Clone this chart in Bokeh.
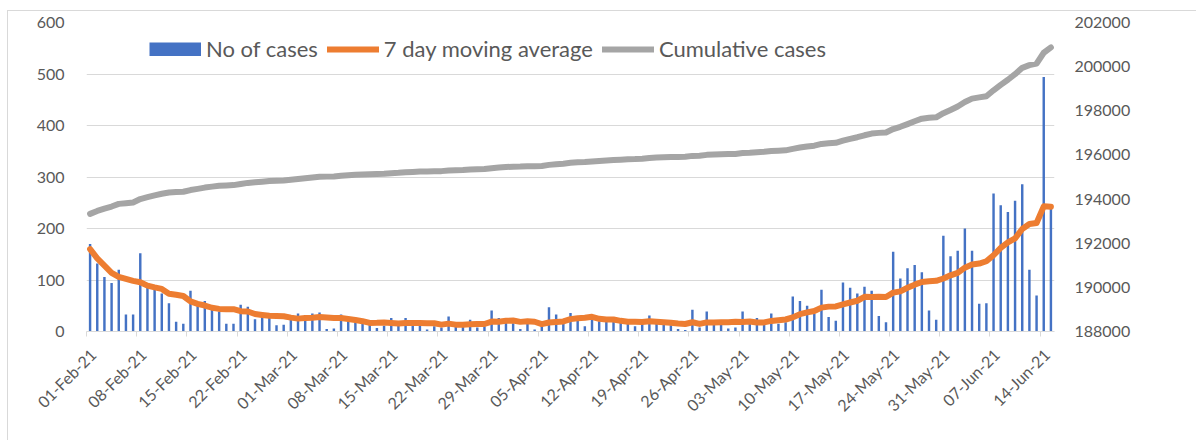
import math
from bokeh.plotting import figure
from bokeh.models import Range1d, LinearAxis, FixedTicker, Legend, LegendItem, PrintfTickFormatter
from bokeh.embed import file_html
from bokeh.resources import INLINE

# ---------------- data ----------------
tick_labels = ["01-Feb-21", "08-Feb-21", "15-Feb-21", "22-Feb-21", "01-Mar-21",
               "08-Mar-21", "15-Mar-21", "22-Mar-21", "29-Mar-21", "05-Apr-21",
               "12-Apr-21", "19-Apr-21", "26-Apr-21", "03-May-21", "10-May-21",
               "17-May-21", "24-May-21", "31-May-21", "07-Jun-21", "14-Jun-21"]

cases = [170, 132, 106, 94, 120, 33, 33,
         152, 85, 82, 74, 55, 19, 15,
         79, 52, 59, 44, 39, 15, 15,
         52, 48, 24, 31, 28, 12, 13,
         32, 35, 32, 35, 37, 5, 6,
         33, 23, 18, 18, 14, 7, 11,
         26, 15, 26, 15, 15, 4, 10,
         8, 29, 12, 12, 23, 8, 10,
         41, 26, 25, 16, 5, 15, 4,
         10, 47, 33, 23, 36, 28, 10,
         23, 20, 23, 23, 18, 16, 10,
         18, 31, 18, 15, 12, 5, 3,
         42, 8, 39, 13, 15, 6, 8,
         39, 15, 26, 15, 35, 15, 18,
         68, 59, 50, 34, 81, 28, 21,
         95, 85, 74, 87, 79, 30, 18,
         155, 103, 123, 129, 115, 41, 23,
         186, 146, 157, 200, 157, 54, 55,
         268, 245, 232, 254, 286, 120, 70,
         494, 241]

moving_avg = [160, 142, 128, 114, 106, 102, 98.3,
              95.7, 89.0, 85.6, 82.7, 73.4, 71.4, 68.9,
              58.4, 53.7, 50.4, 46.1, 43.9, 43.3, 43.3,
              39.4, 38.9, 33.9, 32.0, 30.4, 30.0, 29.7,
              26.9, 25.0, 26.1, 26.7, 28.0, 27.0, 26.0,
              26.1, 24.4, 22.4, 20.0, 16.7, 17.0, 17.7,
              16.7, 15.6, 16.7, 16.3, 16.4, 16.0, 15.9,
              13.3, 15.3, 13.3, 12.9, 14.0, 14.6, 14.6,
              19.3, 18.9, 20.7, 21.3, 18.7, 19.7, 18.9,
              14.4, 17.4, 18.6, 19.6, 24.0, 25.9, 26.7,
              28.6, 24.7, 23.3, 23.3, 20.7, 19.0, 19.0,
              18.3, 19.9, 19.1, 18.0, 17.1, 15.6, 14.6,
              18.0, 14.7, 17.7, 17.4, 17.9, 18.0, 18.7,
              18.3, 19.3, 17.4, 17.7, 20.6, 21.9, 23.3,
              27.4, 33.7, 37.1, 39.9, 46.4, 48.3, 48.7,
              52.6, 56.3, 59.7, 67.3, 67.0, 67.3, 66.9,
              75.4, 78.0, 85.0, 91.0, 96.1, 97.7, 98.4,
              102.9, 109.0, 113.9, 124.0, 130.0, 131.9, 136.4,
              148.1, 162.3, 173.0, 180.7, 199.1, 208.6, 210.7,
              243.0, 242.4]

cumulative = [193330, 193462, 193568, 193662, 193782, 193815, 193848,
              194000, 194085, 194167, 194241, 194296, 194315, 194330,
              194409, 194461, 194520, 194564, 194603, 194618, 194633,
              194685, 194733, 194757, 194788, 194816, 194828, 194841,
              194873, 194908, 194940, 194975, 195012, 195017, 195023,
              195056, 195079, 195097, 195115, 195129, 195136, 195147,
              195173, 195188, 195214, 195229, 195244, 195248, 195258,
              195266, 195295, 195307, 195319, 195342, 195350, 195360,
              195401, 195427, 195452, 195468, 195473, 195488, 195492,
              195502, 195549, 195582, 195605, 195641, 195669, 195679,
              195702, 195722, 195745, 195768, 195786, 195802, 195812,
              195830, 195861, 195879, 195894, 195906, 195911, 195914,
              195956, 195964, 196003, 196016, 196031, 196037, 196045,
              196084, 196099, 196125, 196140, 196175, 196190, 196208,
              196276, 196335, 196385, 196419, 196500, 196528, 196549,
              196644, 196729, 196803, 196890, 196969, 196999, 197017,
              197172, 197275, 197398, 197527, 197642, 197683, 197706,
              197892, 198038, 198195, 198395, 198552, 198606, 198661,
              198929, 199174, 199406, 199660, 199946, 200066, 200136,
              200630, 200871]

left_ticks = [0, 100, 200, 300, 400, 500, 600]
right_ticks = [188000, 190000, 192000, 194000, 196000, 198000, 200000, 202000]

# ---------------- chart ----------------
day = list(range(len(cases)))
label_pos = [i * 7 for i in range(len(tick_labels))]

FONT = "Lato"
TXT = "#595959"
GRID = "#d9d9d9"
BLUE = "#4472C4"

p = figure(width=1189, height=430, output_backend="svg", toolbar_location=None,
           x_range=Range1d(-0.5, len(cases) - 0.5), y_range=Range1d(0, 600),
           min_border_left=78, min_border_right=143, min_border_top=11, min_border_bottom=110)
p.styles = {"border-left": "1px solid #d9d9d9", "border-top": "1px solid #d9d9d9",
            "margin-left": "7px", "margin-top": "10px"}
p.outline_line_color = None
p.extra_y_ranges = {"cum": Range1d(188000, 202000)}

p.xgrid.visible = False
p.ygrid.grid_line_color = GRID
p.ygrid.ticker = FixedTicker(ticks=left_ticks)

bars = p.vbar(x=day, top=cases, width=0.34, fill_color=BLUE, line_color=None)
ma = p.line(day, moving_avg, line_color="#ED7D31", line_width=6, line_join="round", line_cap="round")
cum = p.line(day, cumulative, line_color="#A5A5A5", line_width=6, line_join="round", line_cap="round",
             y_range_name="cum")
# legend swatch for the bars (a solid block, like the reference legend); draws nothing in the plot
bar_key = p.line(x=[0, 1], y=[float("nan"), float("nan")], line_color=BLUE, line_width=14,
                 line_cap="butt")

# left axis
ya = p.yaxis[0]
ya.ticker = FixedTicker(ticks=left_ticks)
ya.axis_line_color = None
ya.major_tick_line_color = None
ya.minor_tick_line_color = None
ya.major_label_standoff = 16
ya.major_label_text_font = FONT
ya.major_label_text_font_size = "16px"
ya.major_label_text_color = TXT

# right axis
ra = LinearAxis(y_range_name="cum", ticker=FixedTicker(ticks=right_ticks),
                formatter=PrintfTickFormatter(format="%d"))
ra.axis_line_color = None
ra.major_tick_line_color = None
ra.minor_tick_line_color = None
ra.major_label_standoff = 14
ra.major_label_text_font = FONT
ra.major_label_text_font_size = "16px"
ra.major_label_text_color = TXT
p.add_layout(ra, "right")

# x axis
xa = p.xaxis[0]
xa.ticker = FixedTicker(ticks=[t + 0.4 for t in label_pos], minor_ticks=[t - 0.5 for t in label_pos])
xa.major_label_overrides = {t + 0.4: lab for t, lab in zip(label_pos, tick_labels)}
xa.major_label_orientation = math.pi / 4
xa.major_tick_in = 0
xa.major_tick_out = 0
xa.minor_tick_in = 0
xa.minor_tick_out = 5
xa.minor_tick_line_color = GRID
xa.axis_line_color = GRID
xa.major_label_standoff = 15
xa.major_label_text_font = FONT
xa.major_label_text_font_size = "16px"
xa.major_label_text_color = TXT

legend = Legend(items=[LegendItem(label="No of cases", renderers=[bar_key]),
                       LegendItem(label="7 day moving average", renderers=[ma]),
                       LegendItem(label="Cumulative cases", renderers=[cum])],
                orientation="horizontal", location=(63, 269),
                label_text_font=FONT, label_text_font_size="22px", label_text_color=TXT,
                glyph_width=52, glyph_height=14, spacing=9, padding=0, margin=0,
                label_standoff=5, background_fill_alpha=0, border_line_alpha=0)
p.add_layout(legend)

open("out.html", "w").write(file_html(p, INLINE))
